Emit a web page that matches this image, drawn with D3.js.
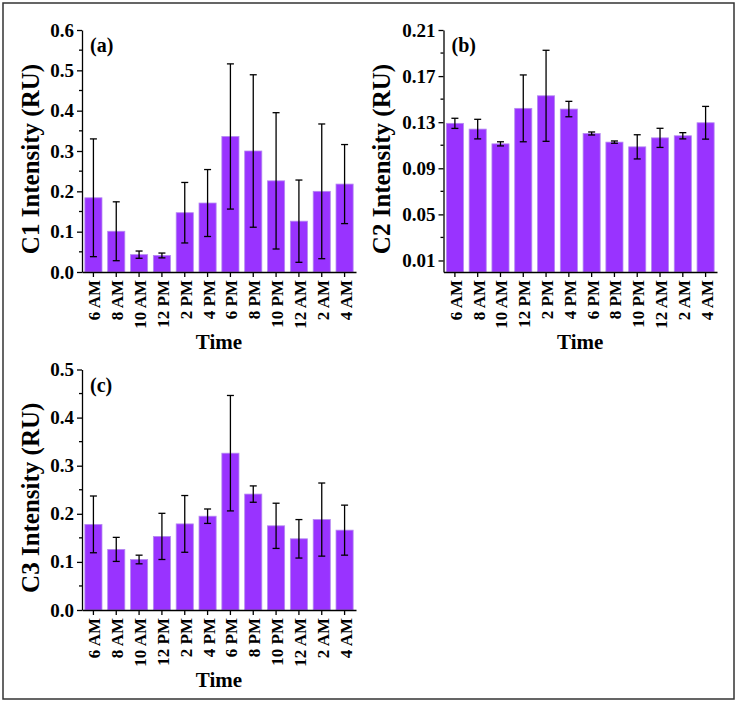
<!DOCTYPE html>
<head>
<meta charset="utf-8">
<script src="https://d3js.org/d3.v7.min.js"></script>
</head>
<style>
body { margin: 0; background: #fff; }
text { font-family: "Liberation Serif", "Times New Roman", serif; font-weight: bold; fill: #000; }
.bar { fill: #9933ff; stroke: #b58af0; stroke-width: 0.8; }
.err { stroke: #000; stroke-width: 1.3; fill: none; }
.axis path, .axis line { stroke: #000; stroke-width: 1.3; }
</style>
<body>
<script>
var times = ["6 AM", "8 AM", "10 AM", "12 PM", "2 PM", "4 PM", "6 PM", "8 PM", "10 PM", "12 AM", "2 AM", "4 AM"];

var c1Mean = [0.184, 0.101, 0.043, 0.041, 0.147, 0.171, 0.336, 0.300, 0.226, 0.126, 0.200, 0.218];
var c1Err  = [0.146, 0.073, 0.009, 0.006, 0.075, 0.083, 0.180, 0.189, 0.169, 0.102, 0.167, 0.098];

var c2Mean = [0.1290, 0.1240, 0.1112, 0.1420, 0.1529, 0.1414, 0.1202, 0.1127, 0.1086, 0.1164, 0.1182, 0.1295];
var c2Err  = [0.0044, 0.0085, 0.0018, 0.0290, 0.0395, 0.0067, 0.0013, 0.0010, 0.0105, 0.0083, 0.0027, 0.0142];

var c3Mean = [0.178, 0.126, 0.105, 0.153, 0.179, 0.195, 0.326, 0.241, 0.175, 0.148, 0.188, 0.166];
var c3Err  = [0.059, 0.025, 0.009, 0.048, 0.059, 0.015, 0.120, 0.017, 0.047, 0.040, 0.076, 0.052];

var c1Ticks = [0, 0.1, 0.2, 0.3, 0.4, 0.5, 0.6];
var c1Minor = [0.05, 0.15, 0.25, 0.35, 0.45, 0.55];
var c2Ticks = [0.01, 0.05, 0.09, 0.13, 0.17, 0.21];
var c2Minor = [0.03, 0.07, 0.11, 0.15, 0.19];
var c3Ticks = [0, 0.1, 0.2, 0.3, 0.4, 0.5];
var c3Minor = [0.05, 0.15, 0.25, 0.35, 0.45];

var svg = d3.select("body").append("svg")
    .attr("width", 737)
    .attr("height", 703);

// outer frame
svg.append("rect")
    .attr("x", 3).attr("y", 3)
    .attr("width", 731).attr("height", 696)
    .attr("fill", "none")
    .attr("stroke", "#333")
    .attr("stroke-width", 1.5);

function drawPanel(p) {
  var x = d3.scaleBand().domain(times)
      .range([p.left, p.right])
      .paddingInner(0.25).paddingOuter(0.125);
  var y = d3.scaleLinear().domain(p.domain).range([p.bottom, p.top]);
  var g = svg.append("g");

  g.selectAll(".bar").data(p.mean).enter().append("rect")
      .attr("class", "bar")
      .attr("x", function(d, i) { return x(times[i]); })
      .attr("width", x.bandwidth())
      .attr("y", function(d) { return y(d); })
      .attr("height", function(d) { return y(p.domain[0]) - y(d); });

  var cap = 3.5;
  p.mean.forEach(function(m, i) {
    var cx = x(times[i]) + x.bandwidth() / 2;
    var hi = y(m + p.err[i]), lo = y(m - p.err[i]);
    g.append("line").attr("class", "err")
        .attr("x1", cx).attr("x2", cx).attr("y1", hi).attr("y2", lo);
    g.append("line").attr("class", "err")
        .attr("x1", cx - cap).attr("x2", cx + cap).attr("y1", hi).attr("y2", hi);
    g.append("line").attr("class", "err")
        .attr("x1", cx - cap).attr("x2", cx + cap).attr("y1", lo).attr("y2", lo);
  });

  // y axis
  var ya = g.append("g").attr("class", "axis")
      .attr("transform", "translate(" + p.left + ",0)")
      .call(d3.axisLeft(y).tickValues(p.ticks).tickFormat(d3.format(p.fmt))
            .tickSize(5).tickSizeOuter(0).tickPadding(3));
  ya.selectAll("text").style("font-size", "19px");
  ya.selectAll(".minor").data(p.minor).enter().append("line")
      .attr("class", "minor")
      .attr("x1", -3).attr("x2", 0)
      .attr("y1", function(d) { return y(d); })
      .attr("y2", function(d) { return y(d); });

  // x axis
  var xa = g.append("g").attr("class", "axis")
      .attr("transform", "translate(0," + p.bottom + ")")
      .call(d3.axisBottom(x).tickSize(5).tickSizeOuter(0));
  xa.selectAll("text")
      .style("font-size", "17px")
      .style("text-anchor", "end")
      .attr("transform", "rotate(-90)")
      .attr("x", -8)
      .attr("y", 1)
      .attr("dy", "0.35em");

  // labels
  g.append("text")
      .attr("x", p.left + 8).attr("y", p.top + 22)
      .style("font-size", "20px")
      .text(p.tag);
  g.append("text")
      .attr("text-anchor", "middle")
      .attr("transform", "translate(" + (p.left - p.ylabOff) + "," + ((p.top + p.bottom) / 2 + 8) + ") rotate(-90)")
      .style("font-size", "25px")
      .text(p.ylabel);
  g.append("text")
      .attr("text-anchor", "middle")
      .attr("x", (p.left + p.right) / 2)
      .attr("y", p.bottom + 77)
      .style("font-size", "21px")
      .text("Time");
}

drawPanel({left: 82, right: 356, top: 30, bottom: 272, domain: [0, 0.6],
  mean: c1Mean, err: c1Err, ticks: c1Ticks, minor: c1Minor, fmt: ".1f",
  tag: "(a)", ylabel: "C1 Intensity (RU)", ylabOff: 43});
drawPanel({left: 443.5, right: 717, top: 30, bottom: 272, domain: [0, 0.21],
  mean: c2Mean, err: c2Err, ticks: c2Ticks, minor: c2Minor, fmt: ".2f",
  tag: "(b)", ylabel: "C2 Intensity (RU)", ylabOff: 54});
drawPanel({left: 82, right: 356, top: 369.5, bottom: 610, domain: [0, 0.5],
  mean: c3Mean, err: c3Err, ticks: c3Ticks, minor: c3Minor, fmt: ".1f",
  tag: "(c)", ylabel: "C3 Intensity (RU)", ylabOff: 43});
</script>
</body>
